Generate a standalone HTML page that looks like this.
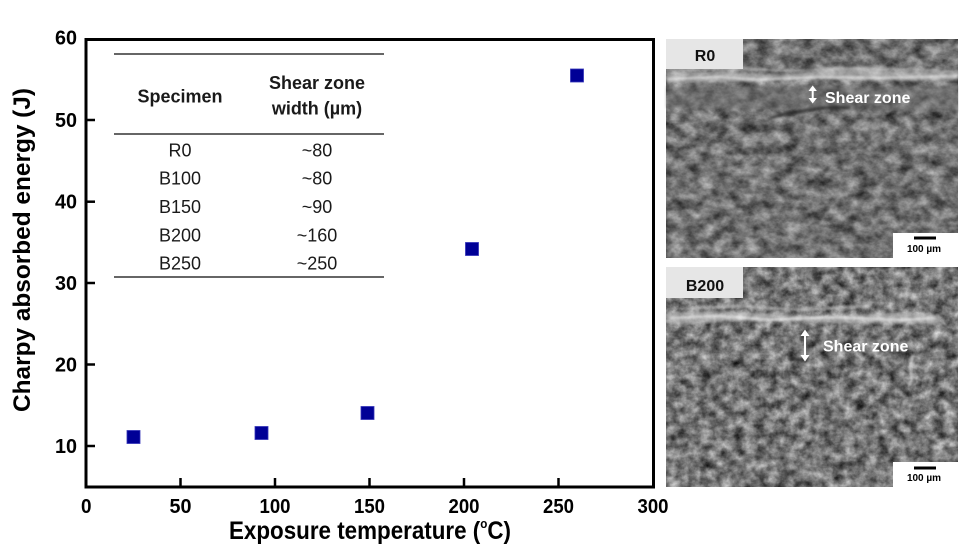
<!DOCTYPE html>
<html>
<head>
<meta charset="utf-8">
<style>
html,body{margin:0;padding:0;background:#fff;}
svg{display:block;font-family:"Liberation Sans",Arial,sans-serif;}
</style>
</head>
<body>
<svg width="959" height="547" viewBox="0 0 959 547" xmlns="http://www.w3.org/2000/svg">
<defs>
  <filter id="tex1" filterUnits="userSpaceOnUse" x="666" y="39" width="292" height="219" color-interpolation-filters="sRGB">
    <feTurbulence type="fractalNoise" baseFrequency="0.07 0.09" numOctaves="4" seed="7"/>
    <feColorMatrix type="matrix" values="0.75 0 0 0 0.065  0.75 0 0 0 0.065  0.75 0 0 0 0.065  0 0 0 0 1"/>
  </filter>
  <filter id="tex2" filterUnits="userSpaceOnUse" x="666" y="267" width="292" height="220" color-interpolation-filters="sRGB">
    <feTurbulence type="fractalNoise" baseFrequency="0.09 0.1" numOctaves="4" seed="19"/>
    <feColorMatrix type="matrix" values="0.9 0 0 0 0.01  0.9 0 0 0 0.01  0.9 0 0 0 0.01  0 0 0 0 1"/>
  </filter>
  <filter id="blur1" color-interpolation-filters="sRGB"><feGaussianBlur stdDeviation="1.2"/></filter>
</defs>

<rect width="959" height="547" fill="#fff"/>

<!-- table -->
<g stroke="#333" stroke-width="1.5">
  <line x1="114" y1="54" x2="384" y2="54"/>
  <line x1="114" y1="134" x2="384" y2="134"/>
  <line x1="114" y1="277" x2="384" y2="277"/>
</g>
<g fill="#1a1a1a" font-size="18" text-anchor="middle">
  <text x="180" y="102.5" font-weight="bold">Specimen</text>
  <text x="317" y="89" font-weight="bold">Shear zone</text>
  <text x="317" y="114.5" font-weight="bold">width (µm)</text>
  <text x="180" y="156.5">R0</text>
  <text x="180" y="184.5">B100</text>
  <text x="180" y="213">B150</text>
  <text x="180" y="241.5">B200</text>
  <text x="180" y="269.5">B250</text>
  <text x="317" y="156.5">~80</text>
  <text x="317" y="184.5">~80</text>
  <text x="317" y="213">~90</text>
  <text x="317" y="241.5">~160</text>
  <text x="317" y="269.5">~250</text>
</g>

<!-- axes frame -->
<rect x="86" y="39.5" width="567.5" height="447.5" fill="none" stroke="#000" stroke-width="3"/>
<g stroke="#000" stroke-width="2.5">
  <line x1="86" y1="120" x2="95" y2="120"/>
  <line x1="86" y1="201.7" x2="95" y2="201.7"/>
  <line x1="86" y1="283" x2="95" y2="283"/>
  <line x1="86" y1="364.5" x2="95" y2="364.5"/>
  <line x1="86" y1="446" x2="95" y2="446"/>
  <line x1="180.5" y1="487" x2="180.5" y2="478"/>
  <line x1="275" y1="487" x2="275" y2="478"/>
  <line x1="369.5" y1="487" x2="369.5" y2="478"/>
  <line x1="464" y1="487" x2="464" y2="478"/>
  <line x1="558.5" y1="487" x2="558.5" y2="478"/>
</g>
<!-- y tick labels -->
<g font-size="20" font-weight="bold" fill="#000">
  <text x="55" y="44.5" textLength="22" lengthAdjust="spacingAndGlyphs">60</text>
  <text x="55" y="127" textLength="22" lengthAdjust="spacingAndGlyphs">50</text>
  <text x="55" y="208.5" textLength="22" lengthAdjust="spacingAndGlyphs">40</text>
  <text x="55" y="290" textLength="22" lengthAdjust="spacingAndGlyphs">30</text>
  <text x="55" y="371.5" textLength="22" lengthAdjust="spacingAndGlyphs">20</text>
  <text x="55" y="453" textLength="22" lengthAdjust="spacingAndGlyphs">10</text>
</g>
<!-- x tick labels -->
<g font-size="20" font-weight="bold" fill="#000">
  <text x="81" y="513" textLength="10.5" lengthAdjust="spacingAndGlyphs">0</text>
  <text x="169.5" y="513" textLength="22" lengthAdjust="spacingAndGlyphs">50</text>
  <text x="259.5" y="513" textLength="31" lengthAdjust="spacingAndGlyphs">100</text>
  <text x="354" y="513" textLength="31" lengthAdjust="spacingAndGlyphs">150</text>
  <text x="448.5" y="513" textLength="31" lengthAdjust="spacingAndGlyphs">200</text>
  <text x="543" y="513" textLength="31" lengthAdjust="spacingAndGlyphs">250</text>
  <text x="637.5" y="513" textLength="31" lengthAdjust="spacingAndGlyphs">300</text>
</g>
<!-- axis titles -->
<text x="229" y="539" font-size="25" font-weight="bold" fill="#000" textLength="282" lengthAdjust="spacingAndGlyphs">Exposure temperature (<tspan dy="-11" font-size="13">o</tspan><tspan dy="11">C)</tspan></text>
<text transform="translate(30,250) rotate(-90)" text-anchor="middle" font-size="24" font-weight="bold" fill="#000" textLength="324" lengthAdjust="spacingAndGlyphs">Charpy absorbed energy (J)</text>

<!-- markers -->
<g fill="#000096" stroke="#3333b8" stroke-width="0.8">
  <rect x="127" y="430.5" width="13" height="13"/>
  <rect x="255" y="426.5" width="13" height="13"/>
  <rect x="361" y="406.5" width="13" height="13"/>
  <rect x="465.5" y="242.5" width="13" height="13"/>
  <rect x="570.5" y="69" width="13" height="13"/>
</g>

<!-- ===== SEM panel 1 (R0) ===== -->
<rect x="666" y="39" width="292" height="219" fill="#777"/>
<rect x="666" y="39" width="292" height="219" filter="url(#tex1)"/>
<g filter="url(#blur1)" opacity="0.85">
  <path d="M666 74 Q700 70 740 73 T820 71 T900 72 L958 70 L958 80 Q900 82 840 80 T740 82 L666 83 Z" fill="#d0d0d0" opacity="0.6"/>
  <path d="M668 79 L720 77 L760 80 L820 77 L880 78 L958 76" stroke="#f4f4f4" stroke-width="2" fill="none"/>
  <path d="M680 70 L730 68 L790 71 L850 68 L940 70" stroke="#cfcfcf" stroke-width="1.5" fill="none"/>
  <path d="M666 86 L958 86 L958 112 L666 108 Z" fill="#6a6a6a" opacity="0.5"/>
  <path d="M770 118 Q790 112 810 110 Q830 106 850 108" stroke="#2a2a2a" stroke-width="3" fill="none"/>
</g>
<rect x="666" y="39" width="77" height="30" fill="#e6e6e6"/>
<text x="705" y="61" text-anchor="middle" font-size="16" font-weight="bold" fill="#111">R0</text>
<g fill="#fff" stroke="#fff">
  <line x1="812.7" y1="89" x2="812.7" y2="100" stroke-width="2"/>
  <path d="M808.5 91 L812.7 85.5 L816.9 91 Z" stroke="none"/>
  <path d="M808.5 98 L812.7 103.5 L816.9 98 Z" stroke="none"/>
</g>
<text x="825" y="103" font-size="16" font-weight="bold" fill="#fff">Shear zone</text>
<rect x="893" y="233" width="65" height="25" fill="#fff"/>
<rect x="914" y="236.5" width="22" height="3" fill="#000"/>
<text x="924" y="252" text-anchor="middle" font-size="10" font-weight="bold" fill="#000">100 µm</text>

<!-- ===== SEM panel 2 (B200) ===== -->
<rect x="666" y="267" width="292" height="220" fill="#787878"/>
<rect x="666" y="267" width="292" height="220" filter="url(#tex2)"/>
<g filter="url(#blur1)" opacity="0.9">
  <path d="M666 313 Q720 309 780 314 T880 312 L940 314 L940 323 Q880 325 800 322 T700 324 L666 323 Z" fill="#d4d4d4" opacity="0.6"/>
  <path d="M670 318 L720 316 L770 320 L830 317 L900 320 L935 318" stroke="#f6f6f6" stroke-width="2" fill="none"/>
  <path d="M680 309 L740 306 L800 310 L870 306" stroke="#d0d0d0" stroke-width="1.5" fill="none"/>
  <path d="M913 355 L910 368 L912 378 L909 386" stroke="#e8e8e8" stroke-width="2" fill="none"/>
  <path d="M790 358 Q800 361 808 358" stroke="#2a2a2a" stroke-width="3" fill="none"/>
</g>
<rect x="666" y="267" width="77" height="31" fill="#e6e6e6"/>
<text x="705" y="291" text-anchor="middle" font-size="16" font-weight="bold" fill="#111">B200</text>
<g fill="#fff" stroke="#fff">
  <line x1="805" y1="333" x2="805" y2="358" stroke-width="2"/>
  <path d="M800.5 336 L805 329.5 L809.5 336 Z" stroke="none"/>
  <path d="M800.5 355 L805 361.5 L809.5 355 Z" stroke="none"/>
</g>
<text x="823" y="351.5" font-size="16" font-weight="bold" fill="#fff">Shear zone</text>
<rect x="893" y="462" width="65" height="25" fill="#fff"/>
<rect x="914" y="466.5" width="22" height="3" fill="#000"/>
<text x="924" y="481" text-anchor="middle" font-size="10" font-weight="bold" fill="#000">100 µm</text>
</svg>
</body>
</html>
